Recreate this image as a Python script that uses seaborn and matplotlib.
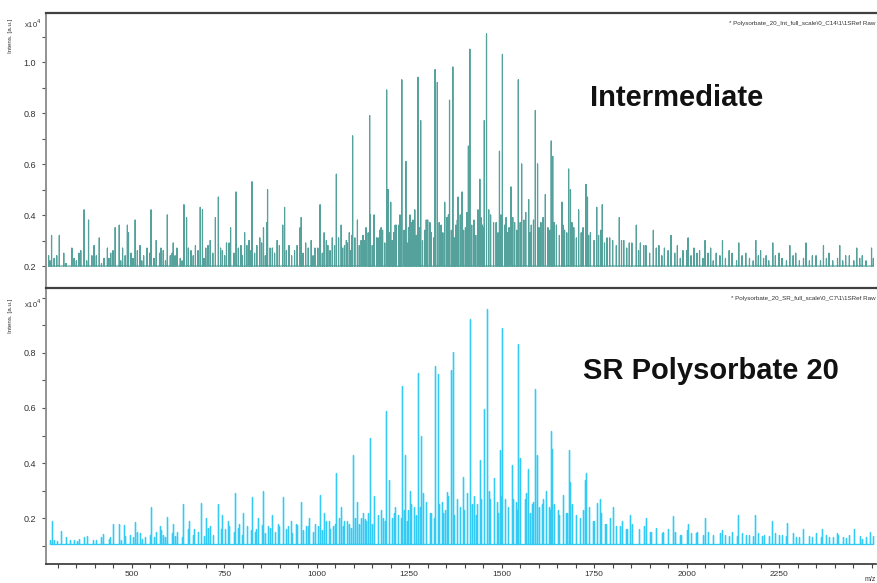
import numpy as np
import pandas as pd
import matplotlib.pyplot as plt
import seaborn as sns
from matplotlib.ticker import MultipleLocator

# peak lists (m/z, intensity in 1e4 a.u.)
top_main_mz = [371, 412, 455, 509, 552, 596, 641, 685, 734, 782, 825, 867, 913, 958,
               1009, 1053, 1097, 1143, 1189, 1230, 1274, 1320, 1368, 1414, 1459, 1502,
               1545, 1591, 1634, 1681, 1728, 1772, 1818, 1864, 1910, 1958, 2004, 2050,
               2097, 2141, 2187, 2233, 2279, 2323, 2370, 2414, 2460, 2500]
top_main_h = [0.42, 0.31, 0.35, 0.38, 0.42, 0.40, 0.44, 0.43, 0.47, 0.49, 0.53, 0.50, 0.43, 0.39,
              0.44, 0.56, 0.71, 0.79, 0.89, 0.93, 0.94, 0.97, 0.98, 1.05, 1.11, 1.03,
              0.93, 0.81, 0.69, 0.58, 0.52, 0.44, 0.39, 0.36, 0.34, 0.32, 0.31, 0.30,
              0.30, 0.29, 0.30, 0.29, 0.28, 0.29, 0.28, 0.28, 0.27, 0.27]

top_sec_mz = [283, 304, 338, 383, 398, 434, 466, 488, 491, 522, 566, 612, 648, 691, 726,
              767, 817, 856, 865, 908, 955, 985, 1020, 1066, 1080, 1095, 1110, 1125, 1145,
              1155, 1170, 1193, 1200, 1215, 1225, 1241, 1252, 1265, 1281, 1300, 1326, 1346,
              1359, 1382, 1393, 1410, 1441, 1453, 1494, 1525, 1554, 1573, 1597, 1618, 1638,
              1663, 1686, 1708, 1732, 1757]
top_sec_h = [0.32, 0.32, 0.27, 0.38, 0.28, 0.27, 0.36, 0.36, 0.33, 0.28, 0.30, 0.29, 0.39, 0.42, 0.39,
             0.35, 0.30, 0.35, 0.37, 0.36, 0.35, 0.30, 0.33, 0.36, 0.30, 0.32, 0.38, 0.32, 0.40,
             0.40, 0.34, 0.50, 0.45, 0.36, 0.40, 0.61, 0.40, 0.42, 0.77, 0.38, 0.92, 0.45,
             0.85, 0.47, 0.49, 0.67, 0.54, 0.77, 0.65, 0.51, 0.60, 0.46, 0.60, 0.48, 0.63,
             0.45, 0.50, 0.42, 0.47, 0.43]

top_minor_mz = [275, 290, 316, 350, 362, 392, 425, 443, 475, 498, 532, 541, 575, 585, 604,
                622, 631, 660, 672, 700, 712, 745, 756, 795, 805, 838, 846, 880, 893, 925,
                940, 970, 995, 1030, 1042, 1075, 1088, 1120, 1133, 1162, 1178, 1208, 1222,
                1248, 1260, 1292, 1306, 1336, 1352, 1376, 1388, 1402, 1425, 1436, 1448, 1470,
                1485, 1512, 1520, 1535, 1560, 1580, 1606, 1625, 1648, 1670, 1695, 1715, 1740,
                1762, 1785, 1800, 1830, 1845, 1875, 1890, 1925, 1940, 1975, 1990, 2020, 2035,
                2065, 2080, 2115, 2160, 2200, 2215, 2250, 2295, 2340, 2385, 2430, 2475]
top_minor_h = [0.24, 0.23, 0.25, 0.22, 0.26, 0.24, 0.23, 0.25, 0.27, 0.25, 0.24, 0.27, 0.25, 0.26, 0.24,
               0.27, 0.23, 0.26, 0.28, 0.27, 0.30, 0.26, 0.29, 0.28, 0.33, 0.28, 0.31, 0.27, 0.30, 0.28,
               0.26, 0.29, 0.27, 0.28, 0.31, 0.28, 0.33, 0.30, 0.35, 0.31, 0.34, 0.33, 0.36,
               0.35, 0.38, 0.34, 0.37, 0.36, 0.39, 0.36, 0.40, 0.35, 0.38, 0.42, 0.36, 0.40,
               0.37, 0.39, 0.35, 0.37, 0.38, 0.36, 0.37, 0.35, 0.36, 0.34, 0.35, 0.33, 0.33,
               0.32, 0.31, 0.30, 0.30, 0.29, 0.29, 0.28, 0.28, 0.27, 0.28, 0.26, 0.27, 0.26,
               0.27, 0.25, 0.26, 0.25, 0.26, 0.24, 0.25, 0.25, 0.24, 0.25, 0.24, 0.24]

# low "grass" between the labelled peaks
grass_mz = [279, 297, 322, 344, 357, 378, 404, 418, 438, 449, 470, 482,
            503, 515, 527, 548, 560, 579, 591, 609, 617, 636, 653, 666,
            679, 695, 706, 719, 740, 751, 763, 776, 788, 799, 811, 822,
            832, 851, 861, 874, 886, 899, 918, 932, 947, 963, 977, 990,
            1003, 1015, 1026, 1036, 1048, 1059, 1070, 1083, 1092, 1103, 1115, 1130,
            1139, 1150, 1166, 1174, 1184, 1196, 1204, 1212, 1228, 1236, 1244, 1256,
            1269, 1278, 1286, 1296, 1310, 1316, 1331, 1341, 1356, 1364, 1372, 1380,
            1397, 1406, 1419, 1430, 1444, 1451, 1465, 1478, 1490, 1498, 1508, 1516,
            1530, 1541, 1550, 1565, 1576, 1586, 1601, 1612, 1630, 1642, 1656, 1666,
            1676, 1690, 1702, 1720, 1735, 1750, 1768, 1778, 1792, 1810, 1824, 1838,
            1852, 1870, 1884, 1900, 1918, 1933, 1950, 1968, 1983, 2000, 2012, 2028,
            2044, 2058, 2072, 2090, 2105, 2123, 2135, 2150, 2170, 2180, 2194, 2208,
            2222, 2240, 2258, 2270, 2288, 2305, 2316, 2332, 2350, 2362, 2378, 2395,
            2408, 2422, 2440, 2452, 2468, 2485, 2505]
top_grass_h = [0.22, 0.24, 0.21, 0.23, 0.25, 0.22, 0.24, 0.21, 0.23, 0.26, 0.22, 0.24,
               0.23, 0.26, 0.22, 0.25, 0.23, 0.27, 0.22, 0.25, 0.24, 0.22, 0.27, 0.24,
               0.26, 0.23, 0.28, 0.25, 0.27, 0.24, 0.29, 0.25, 0.27, 0.24, 0.28, 0.26,
               0.25, 0.29, 0.24, 0.27, 0.25, 0.28, 0.26, 0.24, 0.28, 0.25, 0.27, 0.24,
               0.27, 0.25, 0.30, 0.26, 0.28, 0.31, 0.27, 0.29, 0.26, 0.31, 0.28, 0.30,
               0.33, 0.28, 0.31, 0.35, 0.29, 0.33, 0.30, 0.36, 0.31, 0.34, 0.29, 0.37,
               0.32, 0.35, 0.30, 0.38, 0.33, 0.31, 0.37, 0.33, 0.40, 0.34, 0.31, 0.38,
               0.34, 0.41, 0.36, 0.32, 0.39, 0.35, 0.42, 0.37, 0.33, 0.40, 0.36, 0.33,
               0.39, 0.34, 0.37, 0.41, 0.33, 0.38, 0.35, 0.39, 0.34, 0.37, 0.32, 0.36,
               0.33, 0.37, 0.31, 0.35, 0.32, 0.30, 0.34, 0.29, 0.31, 0.28, 0.30, 0.27,
               0.29, 0.26, 0.28, 0.25, 0.27, 0.24, 0.26, 0.25, 0.23, 0.26, 0.24, 0.25,
               0.23, 0.25, 0.22, 0.24, 0.23, 0.25, 0.22, 0.24, 0.23, 0.22, 0.24, 0.23,
               0.22, 0.24, 0.23, 0.22, 0.24, 0.22, 0.23, 0.22, 0.24, 0.22, 0.23, 0.22,
               0.23, 0.22, 0.24, 0.22, 0.23, 0.22, 0.23]

bot_main_mz = [283, 309, 333, 371, 421, 466, 509, 552, 594, 639, 686, 733, 779, 825, 856,
               910, 958, 1009, 1053, 1097, 1143, 1188, 1230, 1274, 1320, 1368, 1414, 1460,
               1502, 1545, 1591, 1634, 1681, 1728, 1766, 1800, 1847, 1890, 1962, 2004, 2051,
               2097, 2139, 2185, 2230, 2272, 2315, 2365, 2407, 2452, 2495]
bot_main_h = [0.19, 0.153, 0.12, 0.13, 0.144, 0.18, 0.187, 0.239, 0.205, 0.25, 0.256, 0.25, 0.29, 0.276, 0.30,
              0.276, 0.26, 0.284, 0.363, 0.429, 0.492, 0.59, 0.68, 0.726, 0.754, 0.805, 0.923, 0.959,
              0.89, 0.833, 0.669, 0.516, 0.447, 0.363, 0.27, 0.241, 0.211, 0.20, 0.207, 0.18, 0.20,
              0.156, 0.21, 0.21, 0.19, 0.183, 0.162, 0.159, 0.147, 0.159, 0.15]

bot_sec_mz = [450, 479, 522, 575, 610, 655, 700, 745, 760, 800, 840, 880, 930, 980, 1020,
              1066, 1110, 1125, 1155, 1194, 1239, 1252, 1281, 1288, 1327, 1352, 1362, 1396,
              1413, 1441, 1452, 1478, 1495, 1528, 1549, 1572, 1596, 1620, 1637, 1667, 1686,
              1724, 1736, 1757]
bot_sec_h = [0.18, 0.175, 0.145, 0.17, 0.18, 0.19, 0.20, 0.21, 0.19, 0.22, 0.20, 0.21, 0.19, 0.20, 0.22,
             0.24, 0.26, 0.22, 0.28, 0.34, 0.429, 0.30, 0.50, 0.29, 0.725, 0.296, 0.738, 0.35,
             0.60, 0.41, 0.596, 0.344, 0.447, 0.393, 0.42, 0.38, 0.43, 0.298, 0.45, 0.284, 0.33,
             0.34, 0.24, 0.255]

bot_minor_mz = [290, 352, 395, 440, 495, 535, 565, 585, 622, 668, 712, 752, 790, 812, 835,
                868, 895, 922, 945, 972, 995, 1032, 1045, 1075, 1088, 1120, 1133, 1165, 1178,
                1208, 1220, 1248, 1262, 1296, 1306, 1338, 1346, 1378, 1388, 1405, 1425, 1432,
                1468, 1488, 1510, 1518, 1538, 1562, 1582, 1608, 1628, 1652, 1675, 1700, 1712,
                1748, 1782, 1820, 1835, 1870, 1905, 1935, 1985, 2025, 2070, 2115, 2160, 2205,
                2250, 2295, 2340, 2385, 2430, 2475]
bot_minor_h = [0.12, 0.115, 0.12, 0.13, 0.14, 0.13, 0.15, 0.14, 0.15, 0.16, 0.17, 0.16, 0.18, 0.17, 0.16,
               0.17, 0.18, 0.17, 0.18, 0.17, 0.18, 0.19, 0.17, 0.19, 0.18, 0.20, 0.19, 0.21, 0.20,
               0.22, 0.21, 0.23, 0.24, 0.25, 0.22, 0.26, 0.23, 0.27, 0.24, 0.26, 0.28, 0.25,
               0.27, 0.26, 0.27, 0.24, 0.26, 0.27, 0.25, 0.25, 0.24, 0.23, 0.22, 0.21, 0.20,
               0.19, 0.18, 0.17, 0.16, 0.16, 0.15, 0.15, 0.14, 0.145, 0.14, 0.135, 0.14, 0.135,
               0.14, 0.13, 0.13, 0.13, 0.128, 0.125]

bot_grass_h = [0.12, 0.115, 0.13, 0.12, 0.125, 0.135, 0.12, 0.13, 0.125, 0.14, 0.12, 0.135,
               0.13, 0.15, 0.125, 0.14, 0.13, 0.155, 0.13, 0.145, 0.135, 0.13, 0.16, 0.14,
               0.15, 0.135, 0.165, 0.14, 0.16, 0.145, 0.17, 0.15, 0.165, 0.14, 0.17, 0.155,
               0.15, 0.175, 0.145, 0.165, 0.15, 0.17, 0.16, 0.145, 0.175, 0.155, 0.17, 0.15,
               0.17, 0.155, 0.19, 0.16, 0.18, 0.20, 0.17, 0.19, 0.165, 0.20, 0.18, 0.195,
               0.22, 0.18, 0.20, 0.23, 0.19, 0.22, 0.20, 0.24, 0.20, 0.23, 0.19, 0.25,
               0.21, 0.24, 0.20, 0.26, 0.22, 0.20, 0.25, 0.22, 0.28, 0.23, 0.21, 0.27,
               0.23, 0.29, 0.25, 0.21, 0.27, 0.24, 0.30, 0.26, 0.22, 0.28, 0.25, 0.22,
               0.27, 0.23, 0.26, 0.29, 0.22, 0.26, 0.24, 0.27, 0.23, 0.25, 0.21, 0.24,
               0.22, 0.25, 0.20, 0.23, 0.21, 0.19, 0.22, 0.18, 0.20, 0.17, 0.19, 0.16,
               0.18, 0.155, 0.17, 0.15, 0.165, 0.145, 0.16, 0.15, 0.14, 0.155, 0.145, 0.15,
               0.14, 0.15, 0.135, 0.145, 0.14, 0.15, 0.135, 0.145, 0.14, 0.135, 0.145, 0.14,
               0.135, 0.145, 0.14, 0.135, 0.145, 0.13, 0.14, 0.135, 0.145, 0.13, 0.14, 0.13,
               0.14, 0.13, 0.14, 0.13, 0.135, 0.13, 0.135]

top_yticks = [0.2, 0.4, 0.6, 0.8, 1.0]
bot_yticks = [0.2, 0.4, 0.6, 0.8]
xticks = [500, 750, 1000, 1250, 1500, 1750, 2000, 2250]


def sticks(mz_lists, h_lists, base):
    df = pd.DataFrame({'mz': np.concatenate(mz_lists),
                       'h': np.concatenate(h_lists)}).sort_values('mz')
    x = np.repeat(df['mz'].values, 3)
    y = np.column_stack([np.full(len(df), base), df['h'].values,
                         np.full(len(df), base)]).ravel()
    return pd.DataFrame({'mz': x, 'intens': y})


sns.set_style("white")
plt.rcParams['font.family'] = ['Liberation Sans', 'DejaVu Sans']

fig = plt.figure(figsize=(8.78, 5.83), dpi=100)
ax1 = fig.add_axes([0.0524, 0.5065, 0.9453, 0.4715])
ax2 = fig.add_axes([0.0524, 0.032, 0.9453, 0.4745])

top = sticks([top_main_mz, top_sec_mz, top_minor_mz, grass_mz],
             [top_main_h, top_sec_h, top_minor_h, top_grass_h], 0.2)
bot = sticks([bot_main_mz, bot_sec_mz, bot_minor_mz, grass_mz],
             [bot_main_h, bot_sec_h, bot_minor_h, bot_grass_h], 0.105)

sns.lineplot(data=top, x='mz', y='intens', ax=ax1, sort=False, estimator=None,
             color='#137f78', lw=0.85, alpha=0.72)
sns.lineplot(data=bot, x='mz', y='intens', ax=ax2, sort=False, estimator=None,
             color='#00bff2', lw=0.95, alpha=0.8)

ax1.set_ylim(0.115, 1.193)
ax2.set_ylim(0.032, 1.037)
for ax, yt in [(ax1, top_yticks), (ax2, bot_yticks)]:
    ax.set_xlim(268, 2512)
    ax.set_yticks(yt)
    ax.set_yticklabels([f'{v:.1f}' for v in yt])
    ax.yaxis.set_minor_locator(MultipleLocator(0.1))
    ax.set_xlabel('')
    ax.set_ylabel('')
    ax.spines['right'].set_visible(False)
    ax.spines['top'].set_color('#404040')
    ax.spines['top'].set_linewidth(1.6)
    ax.spines['left'].set_color('#8a8a8a')
    ax.spines['left'].set_linewidth(1.3)
    ax.tick_params(axis='y', which='both', left=True, length=3, width=0.8,
                   color='#555555', labelsize=6.5, labelcolor='#333333', pad=4)

ax1.spines['bottom'].set_visible(False)
ax1.set_xticks([])
ax2.spines['bottom'].set_color('#333333')
ax2.spines['bottom'].set_linewidth(1.2)
ax2.set_xticks(xticks)
ax2.set_xticklabels([str(v) for v in xticks])
ax2.xaxis.set_minor_locator(MultipleLocator(50))
ax2.tick_params(axis='x', which='both', bottom=True, length=3, width=0.8,
                color='#444444', labelsize=6, labelcolor='#333333', pad=2)

ax1.text(0.655, 0.69, 'Intermediate', transform=ax1.transAxes, fontsize=21,
         fontweight='bold', color='#111111', va='center')
ax2.text(0.647, 0.70, 'SR Polysorbate 20', transform=ax2.transAxes, fontsize=21,
         fontweight='bold', color='#111111', va='center')

ax1.text(0.999, 0.97, '* Polysorbate_20_Int_full_scale\\0_C14\\1\\1SRef Raw',
         transform=ax1.transAxes, ha='right', va='top', fontsize=4.5, color='#333333')
ax2.text(0.999, 0.97, '* Polysorbate_20_SR_full_scale\\0_C7\\1\\1SRef Raw',
         transform=ax2.transAxes, ha='right', va='top', fontsize=4.5, color='#333333')

for y in [0.968, 0.488]:
    fig.text(0.012, y, 'Intens. [a.u.]', rotation=90, ha='center', va='top',
             fontsize=4.5, color='#333333')
    fig.text(0.027, y + 0.002, r'x10$^4$', ha='left', va='top', fontsize=5.5, color='#333333')

fig.text(0.998, 0.0, 'm/z', ha='right', va='bottom', fontsize=5, color='#333333')

fig.savefig('out.png', dpi=100)
